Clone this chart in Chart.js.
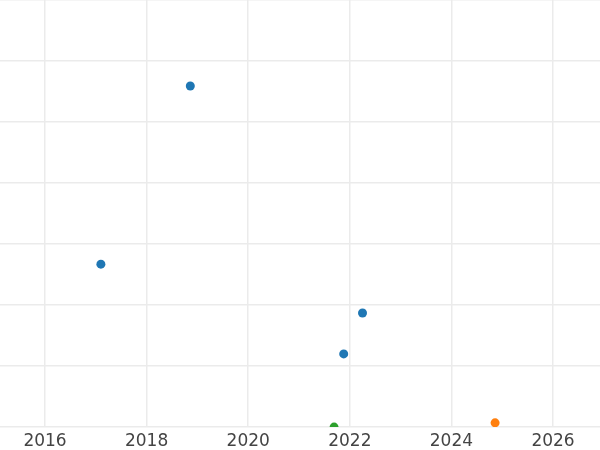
<!DOCTYPE html>
<html>
<head>
<meta charset="UTF-8">
<title>Scatter</title>
<script src="https://cdn.jsdelivr.net/npm/chart.js"></script>
<style>
  body { margin: 0; background: #fff; }
  #wrap { width: 600px; height: 450px; }
</style>
</head>
<body>
<div id="wrap"><canvas id="chart" width="600" height="450"></canvas></div>
<script>
// datos
const xTicks = [2016, 2018, 2020, 2022, 2024, 2026];
const blueX = [2018.86, 2017.10, 2022.25, 2021.88];
const blueY = [5.59, 2.67, 1.87, 1.20];
const orangeX = [2024.86];
const orangeY = [0.07];
const greenX = [2021.69];
const greenY = [0.0];

function toPoints(xs, ys) {
  return xs.map((x, i) => ({ x: x, y: ys[i] }));
}

const ctx = document.getElementById('chart').getContext('2d');
new Chart(ctx, {
  type: 'scatter',
  data: {
    datasets: [
      { data: toPoints(blueX, blueY), backgroundColor: '#1f77b4' },
      { data: toPoints(orangeX, orangeY), backgroundColor: '#ff7f0e' },
      { data: toPoints(greenX, greenY), backgroundColor: '#2ca02c' },
    ],
  },
  options: {
    responsive: false,
    animation: false,
    layout: { autoPadding: false, padding: { left: 0, right: 0, top: 0, bottom: -6.5 } },
    plugins: { legend: { display: false }, tooltip: { enabled: false } },
    elements: { point: { radius: 4.5, borderWidth: 0, hoverRadius: 4.5 } },
    datasets: { scatter: { clip: 0 } },
    scales: {
      x: {
        type: 'linear',
        min: 2015.114,
        max: 2026.925,
        afterBuildTicks: (scale) => { scale.ticks = xTicks.map(v => ({ value: v })); },
        grid: { color: '#ebebeb', lineWidth: 1.5, drawTicks: false },
        border: { display: false },
        ticks: {
          padding: 4.5,
          color: '#444',
          font: { family: 'DejaVu Sans', size: 17 },
          callback: (v) => String(v),
          maxRotation: 0,
        },
      },
      y: {
        min: 0,
        max: 7,
        ticks: { display: false, stepSize: 1 },
        grid: { color: '#ebebeb', lineWidth: 1.5, drawTicks: false },
        border: { display: false },
      },
    },
  },
});
</script>
</body>
</html>
